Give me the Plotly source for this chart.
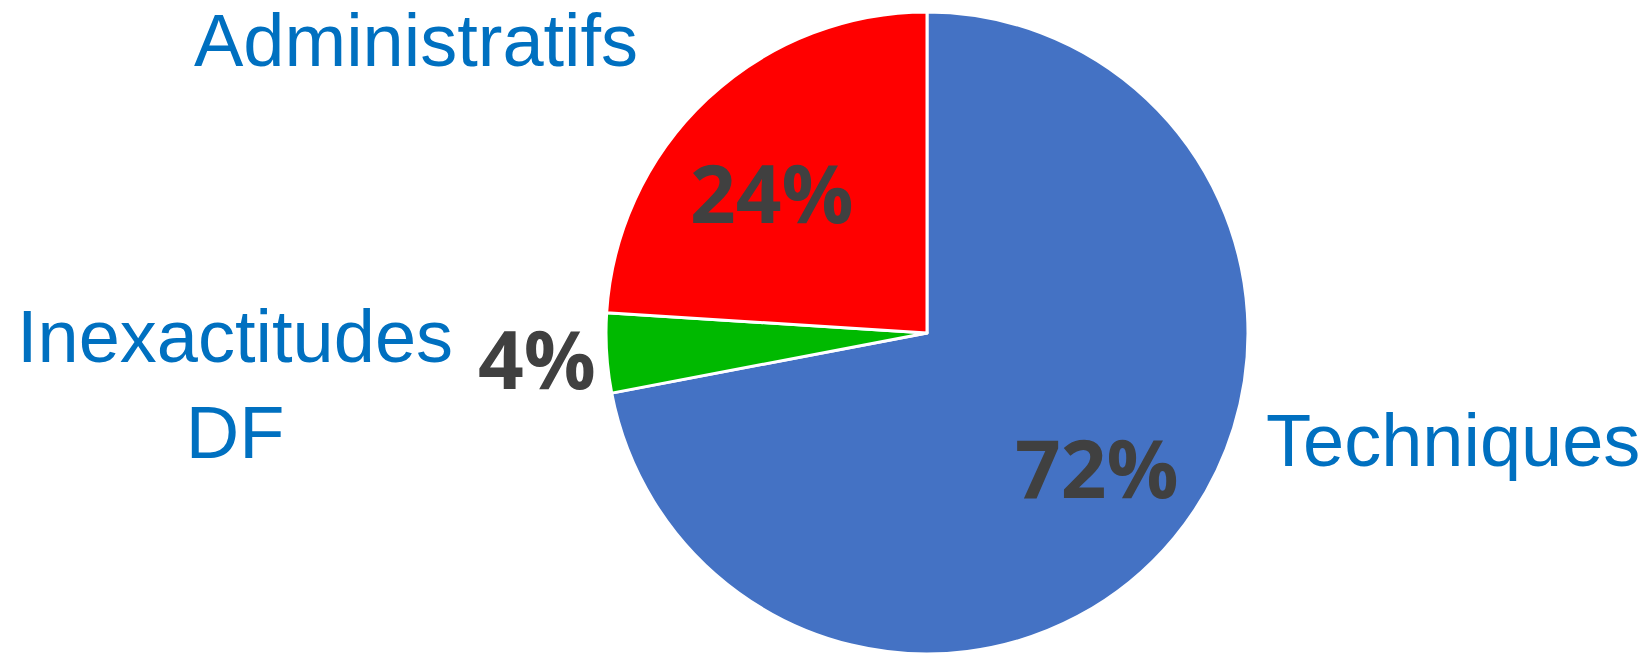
import plotly.graph_objects as go

W, H = 1649, 655

# ---- data ----
categories = ["Techniques", "Inexactitudes DF", "Administratifs"]
values = [72, 4, 24]
label_texts = ["Techniques", "Inexactitudes<br>DF", "Administratifs"]
colors = ["#4472C4", "#00B900", "#FF0000"]

# ---- layout / style (pixel placements of texts) ----
cx, cy, r = 927, 333, 321
label_pos = [(1453, 440), (235, 384), (416, 41)]
pct_pos = [(1097, 466), (537, 357), (772, 192)]

fig = go.Figure()
fig.add_trace(go.Pie(
    labels=categories,
    values=values,
    sort=False,
    direction="clockwise",
    rotation=0,
    marker=dict(colors=colors, line=dict(color="white", width=3)),
    textinfo="none",
    hoverinfo="label+percent",
    showlegend=False,
    domain=dict(x=[(cx - r) / W, (cx + r) / W], y=[1 - (cy + r) / H, 1 - (cy - r) / H]),
))

total = sum(values)
for txt, (x, y) in zip(label_texts, label_pos):
    fig.add_annotation(x=x / W, y=1 - y / H, xref="paper", yref="paper",
                       text=txt, showarrow=False, xanchor="center", yanchor="middle",
                       align="center",
                       font=dict(family="Liberation Sans, Arial", size=74, color="#0070C0"))
for v, (x, y) in zip(values, pct_pos):
    fig.add_annotation(x=x / W, y=1 - y / H, xref="paper", yref="paper",
                       text=f"<b>{round(100 * v / total)}%</b>", showarrow=False,
                       xanchor="center", yanchor="middle",
                       font=dict(family="Open Sans", size=80, color="#404040"))

fig.update_layout(width=W, height=H, margin=dict(l=0, r=0, t=0, b=0),
                  paper_bgcolor="white", plot_bgcolor="white")
fig.write_html("out.html")
